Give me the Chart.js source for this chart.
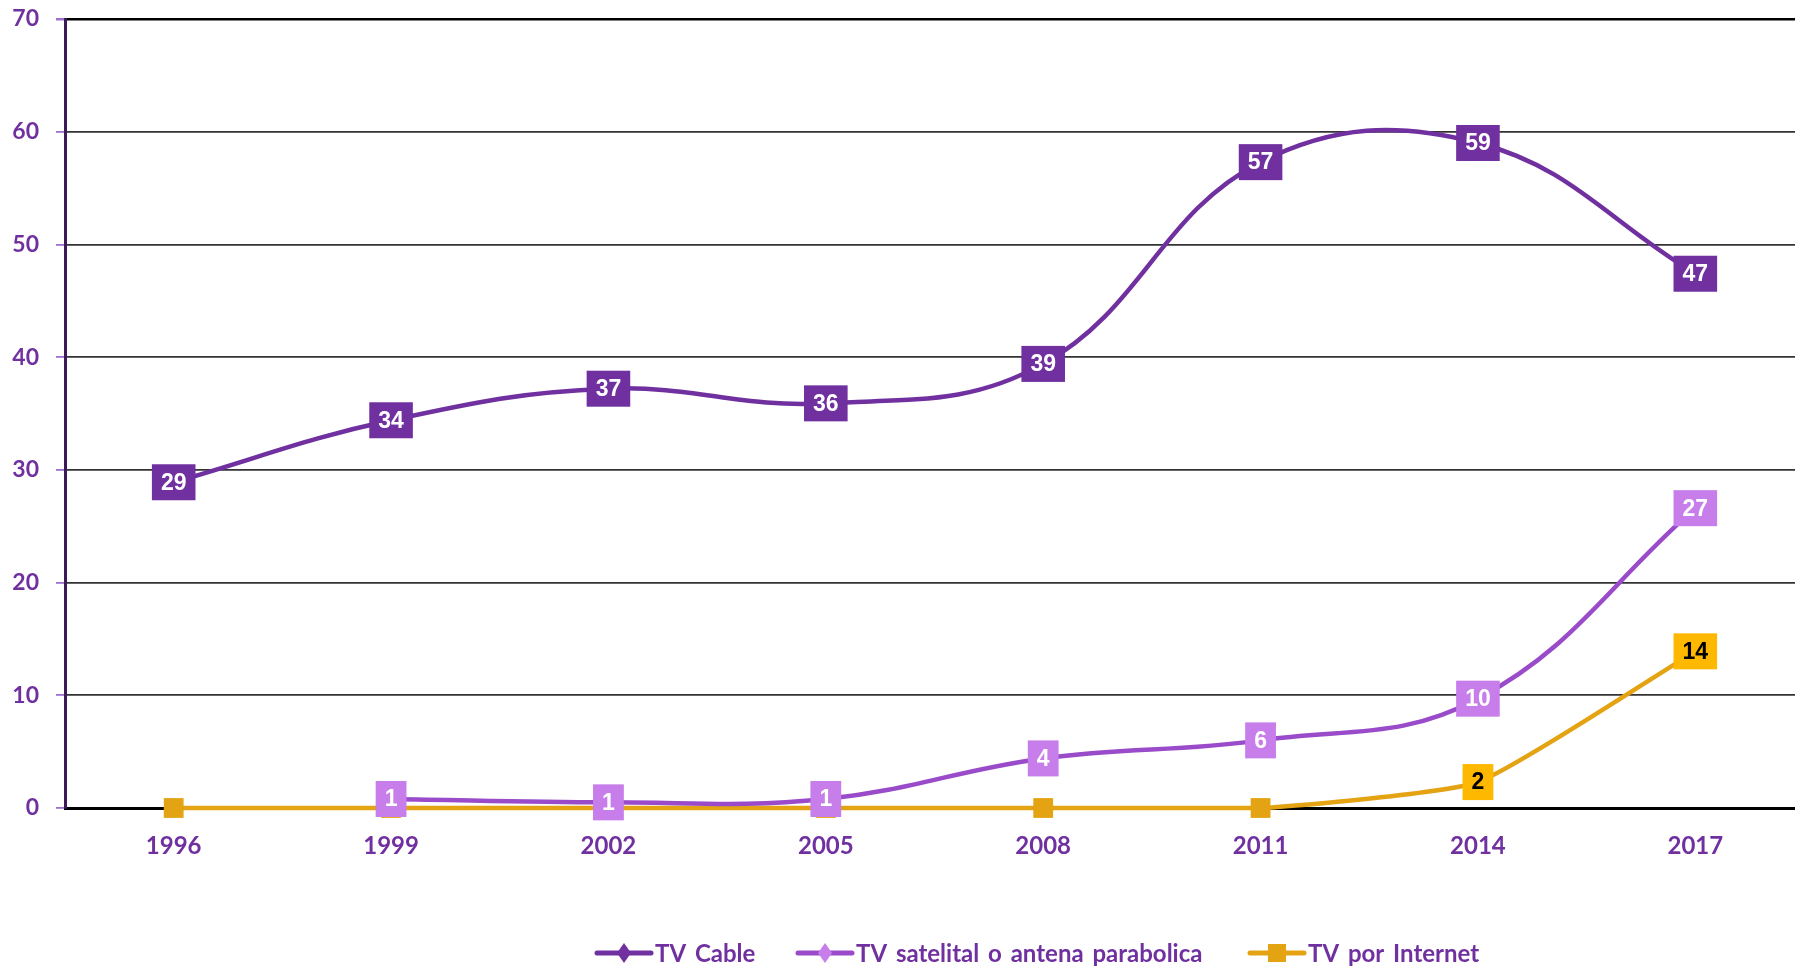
<!DOCTYPE html>
<html>
<head>
<meta charset="utf-8">
<title>TV</title>
<script src="https://cdn.jsdelivr.net/npm/chart.js@4.4.0/dist/chart.umd.min.js"></script>
<style>
    html, body { margin: 0; padding: 0; background: #fff; overflow: hidden; }
    #tvChart { display: block; }
</style>
</head>
<body>
<canvas id="tvChart" width="1818" height="967"></canvas>
<script>
var years = ['1996', '1999', '2002', '2005', '2008', '2011', '2014', '2017'];
var tvCable = [28.9, 34.4, 37.2, 35.9, 39.4, 57.3, 59.0, 47.4];
var tvSatelital = [null, 0.8, 0.5, 0.8, 4.4, 6.0, 9.7, 26.6];
var tvInternet = [0, 0, 0, 0, 0, 0, 2.3, 13.9];
var seriesNames = ['TV Cable', 'TV satelital o antena parabolica', 'TV por Internet'];
var yMin = 0, yMax = 70, yStep = 10;

var lineColours = ['#7030A0', '#9A4BCA', '#E3A312'];
var boxColours = ['#7030A0', '#C77EEA', '#FFB800'];
var boxText = ['#ffffff', '#ffffff', '#000000'];
var markerColours = ['#7030A0', '#C77EEA', '#E3A312'];

// value boxes on top of the lines
var valueBoxes = {
    id: 'valueBoxes',
    afterDatasetsDraw: function(chart) {
        var ctx = chart.ctx;
        ctx.save();
        ctx.font = 'bold 23px "Liberation Sans", Arial, sans-serif';
        ctx.textAlign = 'center';
        ctx.textBaseline = 'middle';
        chart.data.datasets.forEach(function(ds, i) {
            var meta = chart.getDatasetMeta(i);
            meta.data.forEach(function(pt, j) {
                var v = ds.data[j];
                if (v === null || v <= 0) return;
                var txt = String(Math.round(v));
                var w = ctx.measureText(txt).width + 18;
                var h = 36;
                ctx.fillStyle = boxColours[i];
                ctx.fillRect(pt.x - w / 2, pt.y - h / 2, w, h);
                ctx.fillStyle = boxText[i];
                ctx.fillText(txt, pt.x, pt.y + 1);
            });
        });
        ctx.restore();
    }
};

// legend like the office one: line + marker + text
var bottomLegend = {
    id: 'bottomLegend',
    afterDraw: function(chart) {
        var ctx = chart.ctx;
        var starts = [597, 798, 1250];
        var y = 953;
        ctx.save();
        ctx.font = 'bold 24px Lato, "Noto Sans", sans-serif';
        ctx.wordSpacing = '3px';
        ctx.textBaseline = 'middle';
        ctx.textAlign = 'left';
        for (var i = 0; i < seriesNames.length; i++) {
            var x = starts[i];
            ctx.strokeStyle = lineColours[i];
            ctx.lineWidth = 5;
            ctx.lineCap = 'round';
            ctx.beginPath();
            ctx.moveTo(x, y);
            ctx.lineTo(x + 54, y);
            ctx.stroke();
            var cx = x + 27;
            ctx.fillStyle = markerColours[i];
            ctx.beginPath();
            if (i < 2) {
                ctx.moveTo(cx, y - 10);
                ctx.lineTo(cx + 7, y);
                ctx.lineTo(cx, y + 10);
                ctx.lineTo(cx - 7, y);
                ctx.closePath();
            } else {
                ctx.rect(cx - 9, y - 9, 18, 18);
            }
            ctx.fill();
            ctx.fillStyle = '#7030A0';
            ctx.fillText(seriesNames[i], x + 58, y + 1);
        }
        ctx.restore();
    }
};

var ctx = document.getElementById('tvChart');

var myChart = new Chart(ctx, {
    type: 'line',
    data: {
        labels: years,
        datasets: [{
            label: seriesNames[0],
            data: tvCable,
            borderColor: lineColours[0],
            backgroundColor: lineColours[0],
            borderWidth: 4.5,
            tension: 0.4,
            pointRadius: 0,
            fill: false
        }, {
            label: seriesNames[1],
            data: tvSatelital,
            borderColor: lineColours[1],
            backgroundColor: lineColours[1],
            borderWidth: 4.5,
            tension: 0.4,
            pointRadius: 0,
            fill: false
        }, {
            label: seriesNames[2],
            data: tvInternet,
            borderColor: lineColours[2],
            backgroundColor: lineColours[2],
            borderWidth: 4.5,
            tension: 0.15,
            pointStyle: 'rect',
            pointRadius: 14,
            pointBorderWidth: 0,
            clip: false,
            fill: false
        }]
    },
    options: {
        responsive: false,
        animation: false,
        layout: { padding: { top: 19, right: 2, bottom: 0, left: 0 } },
        plugins: {
            legend: { display: false },
            tooltip: { enabled: false }
        },
        scales: {
            x: {
                offset: true,
                grid: { display: false, drawTicks: false },
                border: { display: true, color: '#000', width: 3 },
                ticks: {
                    color: '#7030A0',
                    padding: 24,
                    font: { family: 'Lato', size: 24, weight: 'bold' }
                },
                afterFit: function(scale) {
                    scale.height = 159;
                    scale.paddingLeft = 0;
                    scale.paddingRight = 0;
                }
            },
            y: {
                min: yMin,
                max: yMax,
                ticks: {
                    stepSize: yStep,
                    color: '#7030A0',
                    padding: 17,
                    font: { family: 'Lato', size: 23, weight: 'bold' }
                },
                grid: {
                    color: function(c) { return c.tick && c.tick.value === yMax ? '#000' : '#333'; },
                    lineWidth: function(c) { return c.tick && c.tick.value === yMax ? 2.5 : 1.8; },
                    tickColor: '#A070D0',
                    tickLength: 9
                },
                border: { display: true, color: '#3B1A5A', width: 3 },
                afterFit: function(scale) {
                    scale.width = 65;
                    scale.paddingTop = 0;
                    scale.paddingBottom = 0;
                }
            }
        }
    },
    plugins: [valueBoxes, bottomLegend]
});
</script>
</body>
</html>
